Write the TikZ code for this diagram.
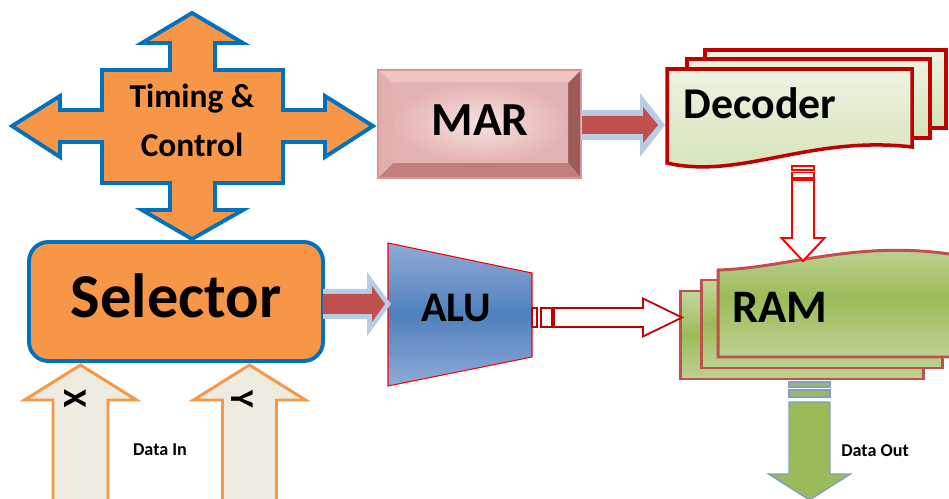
\documentclass[tikz,border=0pt]{standalone}
\usepackage{fontspec}
\setmainfont{Carlito}
\usetikzlibrary{calc}
\definecolor{tcorange}{HTML}{F79646}
\definecolor{tcblue}{HTML}{0070C0}
\definecolor{glowblue}{HTML}{B8CCE4}
\definecolor{arrred}{HTML}{C0504D}
\definecolor{decred}{HTML}{C00000}
\definecolor{ramred}{HTML}{C0504D}
\definecolor{brightred}{HTML}{FF0000}
\definecolor{inbg}{HTML}{EEECE1}
\definecolor{outgreen}{HTML}{9BBB59}
\definecolor{outborder}{HTML}{7F9FC4}
\definecolor{marlt}{HTML}{EEC5C4}
\definecolor{marleft}{HTML}{E3AFAE}
\definecolor{mardk}{HTML}{9C5B59}
\definecolor{marbot}{HTML}{C27E7C}
\definecolor{marin}{HTML}{F6E3E2}
\definecolor{marout}{HTML}{E4B2B1}
\definecolor{marborder}{HTML}{D99694}
\definecolor{decTop}{HTML}{EDF3E1}
\definecolor{decBot}{HTML}{D4E2B6}
\definecolor{ramTop}{HTML}{C4D79E}
\definecolor{ramBot}{HTML}{BDD293}
\definecolor{aluEdge}{HTML}{8FABD6}
\definecolor{aluMid}{HTML}{4F81BD}
\newcommand\myfs[1]{\fontsize{#1}{#1}\selectfont\bfseries}
% right-pointing block arrow: style, tail, tip, shaft half, head half, head length
\newcommand\rarrow[6]{\path[#1] ($(#2)+(0,-#4)$) -- ($(#3)+(-#6,-#4)$) -- ($(#3)+(-#6,-#5)$) -- (#3) -- ($(#3)+(-#6,#5)$) -- ($(#3)+(-#6,#4)$) -- ($(#2)+(0,#4)$) -- cycle;}
% down-pointing block arrow (picture y grows downward)
\newcommand\darrow[6]{\path[#1] ($(#2)+(-#4,0)$) -- ($(#3)+(-#4,-#6)$) -- ($(#3)+(-#5,-#6)$) -- (#3) -- ($(#3)+(#5,-#6)$) -- ($(#3)+(#4,-#6)$) -- ($(#2)+(#4,0)$) -- cycle;}
% up-pointing block arrow
\newcommand\uarrow[6]{\path[#1] ($(#2)+(-#4,0)$) -- ($(#3)+(-#4,#6)$) -- ($(#3)+(-#5,#6)$) -- (#3) -- ($(#3)+(#5,#6)$) -- ($(#3)+(#4,#6)$) -- ($(#2)+(#4,0)$) -- cycle;}
\begin{document}
\begin{tikzpicture}[x=0.02cm,y=-0.02cm,
  tcshape/.style={fill=tcorange, draw=tcblue, line width=2.2pt, line join=miter},
  lbl/.style={inner sep=0pt, anchor=base, text=black},
  glow/.style={fill=glowblue},
  redarrow/.style={fill=arrred},
  decsheet/.style={draw=decred, line width=2pt, top color=decTop, bottom color=decBot},
  ramsheet/.style={draw=ramred, line width=1.7pt, top color=ramTop, bottom color=ramBot, middle color=outgreen},
  alushape/.style={draw=brightred, line width=0.6pt, top color=aluEdge, bottom color=aluEdge, middle color=aluMid},
  aluout/.style={draw=decred, line width=1pt, fill=white},
  decout/.style={draw=brightred, line width=1.1pt, fill=white},
  dataout/.style={draw=outborder, line width=0.8pt, fill=outgreen},
  datain/.style={draw=tcorange, line width=1.7pt, fill=inbg, line join=miter}
]
\useasboundingbox (0,0) rectangle (949,499);

% ---------- Timing & Control ----------
\draw[tcshape] (192,13) -- (243,43) -- (215,43) -- (215,70) -- (283,70) -- (283,110)
  -- (325,110) -- (325,96) -- (373,126) -- (325,157) -- (325,142) -- (283,142)
  -- (283,183) -- (215,183) -- (215,210) -- (243,210) -- (192,239) -- (142,210)
  -- (170,210) -- (170,183) -- (102,183) -- (102,142) -- (60,142) -- (60,157)
  -- (12,126) -- (60,96) -- (60,110) -- (102,110) -- (102,70) -- (170,70)
  -- (170,43) -- (142,43) -- cycle;
\node[lbl, font=\myfs{19}] (tct) at (192,108) {Timing \&};
\node[lbl, font=\myfs{19}] (tcc) at (192,157) {Control};

% ---------- Selector ----------
\draw[tcshape, rounded corners=11pt] (29,242) rectangle (323,361);
\node[lbl, font=\myfs{35.5}] (sel) at (176,318) {Selector};

% ---------- MAR ----------
\fill[marlt] (378,70) -- (581,70) -- (568,83) -- (393,83) -- cycle;
\fill[marleft] (378,70) -- (393,83) -- (393,163) -- (378,178) -- cycle;
\fill[mardk] (581,70) -- (581,178) -- (568,163) -- (568,83) -- cycle;
\fill[marbot] (378,178) -- (581,178) -- (568,163) -- (393,163) -- cycle;
\shade[inner color=marin, outer color=marout] (393,83) rectangle (568,163);
\draw[marborder, line width=0.6pt] (378,70) rectangle (581,178);
\node[lbl, font=\myfs{27}] (mar) at (480,136) {MAR};

% ---------- Decoder ----------
\draw[decsheet] (705,50) rectangle (946,128);
\draw[decsheet] (687,59) rectangle (930,138);
\draw[decsheet] (667,69) -- (912,69) -- (912,147) .. controls (810,135) and (740,180) .. (667,163) -- cycle;
\node[lbl, font=\myfs{25}] (dec) at (760,119) {Decoder};

% ---------- RAM ----------
\draw[ramsheet] (680,291) rectangle (923,379);
\draw[ramsheet] (701,280) rectangle (942,368);
\draw[ramsheet] (718,270) .. controls (790,268) and (860,238) .. (962,256) -- (962,357) -- (718,357) -- cycle;
\node[lbl, font=\myfs{26.5}] (ram) at (780,323) {RAM};

% ---------- ALU ----------
\draw[alushape] (388,243) -- (532,273) -- (532,357) -- (388,386) -- cycle;
\node[lbl, font=\myfs{24}] (alu) at (456,322) {ALU};

% ---------- connector end points ----------
\coordinate (marE) at (581,125);
\coordinate (marE2) at (582,125);
\coordinate (decW) at (665,125);
\coordinate (decWi) at (658,125);
\coordinate (selE) at (323,304);
\coordinate (aluW) at (391,304);
\coordinate (aluWi) at (385,304);
\coordinate (aluE) at (532,317.5);
\coordinate (aluE2) at (554,317.5);
\coordinate (ramW) at (682,317.5);
\coordinate (decS) at (803,166);
\coordinate (decS2) at (803,180);
\coordinate (ramN) at (803,261);
\coordinate (ramS) at (809.5,382);
\coordinate (ramS2) at (809.5,402);
\coordinate (dout) at (809.5,500);
\coordinate (xin) at (80.5,510);
\coordinate (selX) at (80.5,365);
\coordinate (yin) at (249.5,510);
\coordinate (selY) at (249.5,365);

% MAR -> Decoder
\rarrow{glow}{marE}{decW}{15}{32}{25}
\rarrow{redarrow}{marE2}{decWi}{9}{18}{15}
% Selector -> ALU
\rarrow{glow}{selE}{aluW}{15}{32}{24}
\rarrow{redarrow}{selE}{aluWi}{10}{18}{13}
% ALU -> RAM (striped)
\draw[aluout] ($(aluE)+(0,-9.5)$) rectangle ($(aluE)+(5,9.5)$);
\draw[aluout] ($(aluE)+(9,-9.5)$) rectangle ($(aluE)+(20,9.5)$);
\rarrow{aluout}{aluE2}{ramW}{9.5}{19}{39}
% Decoder -> RAM (striped)
\draw[decout] ($(decS)+(-11,0)$) rectangle ($(decS)+(11,4)$);
\draw[decout] ($(decS)+(-11,6.5)$) rectangle ($(decS)+(11,12)$);
\darrow{decout}{decS2}{ramN}{11}{21.5}{23}
% RAM -> Data Out (striped)
\draw[dataout] ($(ramS)+(-20.5,0)$) rectangle ($(ramS)+(20.5,5)$);
\draw[dataout] ($(ramS)+(-20.5,8)$) rectangle ($(ramS)+(20.5,15)$);
\darrow{dataout}{ramS2}{dout}{20.5}{41}{26}
% Data In X, Y -> Selector
\uarrow{datain}{xin}{selX}{27.5}{56}{35}
\uarrow{datain}{yin}{selY}{27}{56}{35}

\node[font=\myfs{19}, rotate=-90, inner sep=0pt] (xl) at (75,399) {X};
\node[font=\myfs{19}, rotate=-90, inner sep=0pt] (yl) at (242,399) {Y};
\node[lbl, font=\myfs{10.3}] (din) at (160,455) {Data In};
\node[lbl, font=\myfs{10.3}] (dot) at (875,456) {Data Out};
\end{tikzpicture}
\end{document}
